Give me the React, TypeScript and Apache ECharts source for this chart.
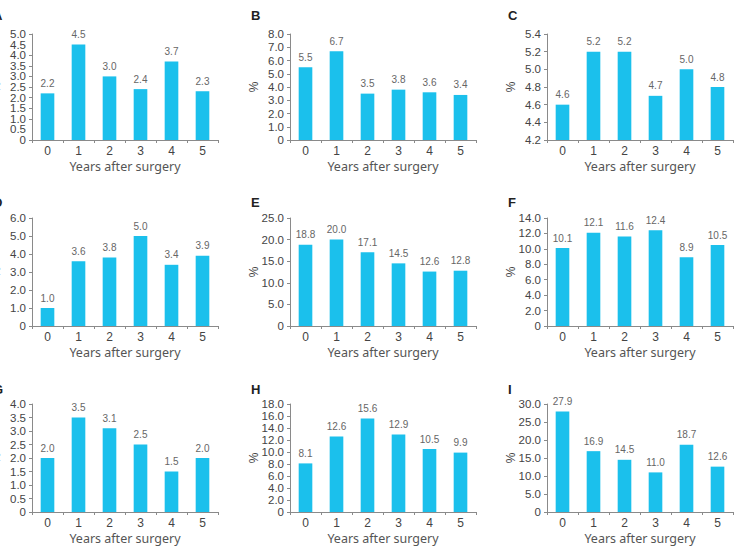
import React, { useEffect, useRef } from "react";
import * as echarts from "echarts";

const years = ["0", "1", "2", "3", "4", "5"];

const panelLetters = ["A", "B", "C", "D", "E", "F", "G", "H", "I"];

const valuesA = [2.2, 4.5, 3.0, 2.4, 3.7, 2.3];
const valuesB = [5.5, 6.7, 3.5, 3.8, 3.6, 3.4];
const valuesC = [4.6, 5.2, 5.2, 4.7, 5.0, 4.8];
const valuesD = [1.0, 3.6, 3.8, 5.0, 3.4, 3.9];
const valuesE = [18.8, 20.0, 17.1, 14.5, 12.6, 12.8];
const valuesF = [10.1, 12.1, 11.6, 12.4, 8.9, 10.5];
const valuesG = [2.0, 3.5, 3.1, 2.5, 1.5, 2.0];
const valuesH = [8.1, 12.6, 15.6, 12.9, 10.5, 9.9];
const valuesI = [27.9, 16.9, 14.5, 11.0, 18.7, 12.6];

// y-axis ranges per panel: [min, max, interval]
const axisA = [0, 5, 0.5];
const axisB = [0, 8, 1];
const axisC = [4.2, 5.4, 0.2];
const axisD = [0, 6, 1];
const axisE = [0, 25, 5];
const axisF = [0, 14, 2];
const axisG = [0, 4, 0.5];
const axisH = [0, 18, 2];
const axisI = [0, 30, 5];

// panel A's densely packed ticks that sit next to its min and max
const crowdedTicksA = [0.5, 4.5];

const xAxisTitle = "Years after surgery";
const yAxisTitle = "%";

const panelValues = [valuesA, valuesB, valuesC, valuesD, valuesE, valuesF, valuesG, valuesH, valuesI];
const panelAxes = [axisA, axisB, axisC, axisD, axisE, axisF, axisG, axisH, axisI];

const colLeft = [32, 290, 547];
const colWidth = 186;
const rowTop = [34, 218, 404];
const rowHeight = [106, 108, 108];
const letterTop = [9, 196, 383];

const BAR = "#1bc0ec";
const AXIS = "#8a8a8a";

const fmt = (v: number) => (Math.abs(v) < 1e-9 ? "0" : v.toFixed(1));

export default function App() {
  const ref = useRef<HTMLDivElement>(null);

  useEffect(() => {
    if (!ref.current) return;
    const chart = echarts.init(ref.current, undefined, { renderer: "svg" });

    const grids: any[] = [];
    const xAxes: any[] = [];
    const yAxes: any[] = [];
    const series: any[] = [];
    const graphics: any[] = [];

    const yLabelStyle = {
      margin: 6,
      hideOverlap: false,
      fontFamily: "Liberation Sans",
      fontSize: 11.5,
      color: "#444",
    };

    panelValues.forEach((vals, i) => {
      const r = Math.floor(i / 3);
      const c = i % 3;
      const [min, max, interval] = panelAxes[i];
      grids.push({
        left: colLeft[c],
        top: rowTop[r],
        width: colWidth,
        height: rowHeight[r],
        containLabel: false,
        outerBoundsMode: "none",
      });
      xAxes.push({
        type: "category",
        gridIndex: i,
        data: years,
        name: xAxisTitle,
        nameLocation: "middle",
        nameGap: 20,
        nameTextStyle: { fontFamily: "Noto Sans", fontSize: 12.5, color: "#555" },
        axisLine: { lineStyle: { color: AXIS, width: 1 } },
        axisTick: { show: true, length: 3, lineStyle: { color: AXIS } },
        axisLabel: { margin: 5, fontFamily: "Liberation Sans", fontSize: 12, color: "#444" },
      });
      yAxes.push({
        type: "value",
        gridIndex: i,
        min,
        max,
        interval,
        name: yAxisTitle,
        nameLocation: "middle",
        nameGap: 30,
        nameMoveOverlap: false,
        nameTextStyle: { fontFamily: "Liberation Sans", fontSize: 12, color: "#444" },
        splitLine: { show: false },
        axisLine: { show: true, lineStyle: { color: AXIS, width: 1 } },
        axisTick: { show: true, length: 3, lineStyle: { color: AXIS } },
        axisLabel: {
          ...yLabelStyle,
          showMinLabel: true,
          showMaxLabel: true,
          formatter: fmt,
        },
      });
      series.push({
        type: "bar",
        xAxisIndex: i,
        yAxisIndex: i,
        data: vals,
        barWidth: "44%",
        itemStyle: { color: BAR },
        label: {
          show: true,
          position: "top",
          distance: 5,
          fontFamily: "Liberation Sans",
          fontSize: 10,
          color: "#666",
          formatter: (p: any) => Number(p.value).toFixed(1),
        },
      });
      graphics.push({
        type: "text",
        left: colLeft[c] - 39,
        top: letterTop[r],
        style: {
          text: panelLetters[i],
          fontFamily: "Liberation Sans",
          fontWeight: "bold",
          fontSize: 13,
          fill: "#222",
        },
      });
    });

    // overlay axis on panel A that carries only the labels beside 0 and 5.0
    yAxes.push({
      type: "value",
      gridIndex: 0,
      position: "left",
      offset: 0,
      min: axisA[0],
      max: axisA[1],
      interval: axisA[2],
      splitLine: { show: false },
      axisLine: { show: false },
      axisTick: { show: false },
      axisLabel: {
        ...yLabelStyle,
        showMinLabel: false,
        showMaxLabel: false,
        formatter: (v: number) =>
          crowdedTicksA.some((t) => Math.abs(t - v) < 1e-9) ? fmt(v) : "",
      },
    });

    chart.setOption({
      animation: false,
      backgroundColor: "#ffffff",
      grid: grids,
      xAxis: xAxes,
      yAxis: yAxes,
      series,
      graphic: graphics,
    });

    return () => chart.dispose();
  }, []);

  return (
    <div
      ref={ref}
      style={{ position: "fixed", left: 0, top: 0, width: 738, height: 547 }}
    />
  );
}
